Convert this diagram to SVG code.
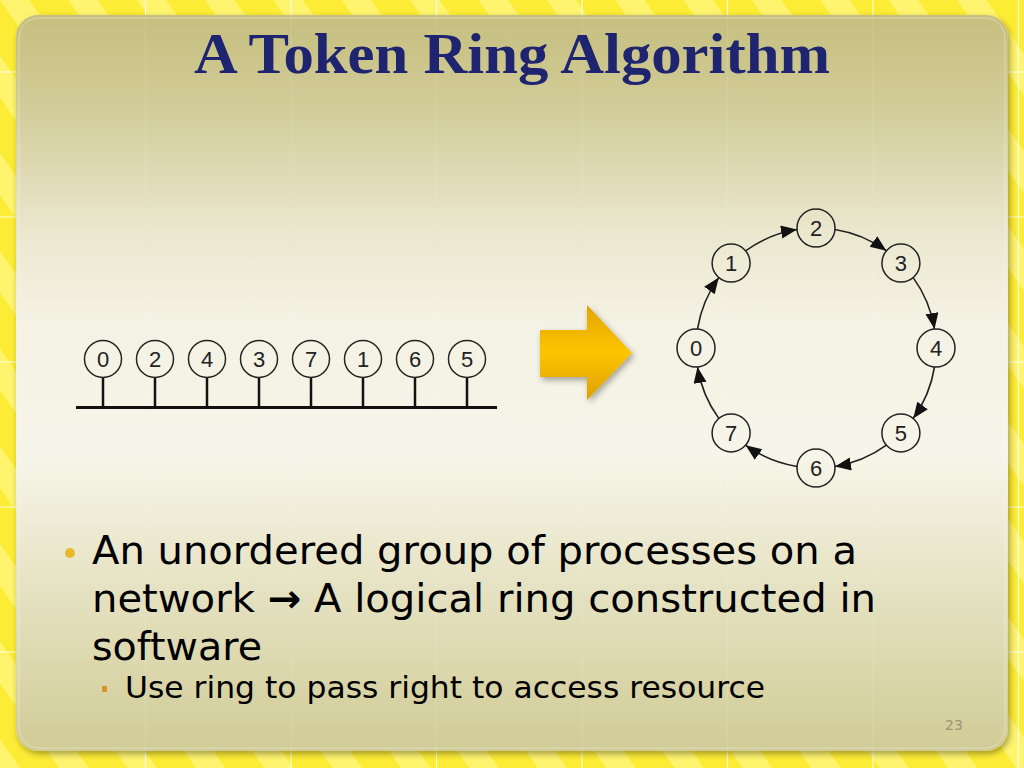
<svg xmlns="http://www.w3.org/2000/svg" width="1024" height="768" viewBox="0 0 1024 768">
<defs>
  <pattern id="stripes" patternUnits="userSpaceOnUse" width="56" height="56" patternTransform="rotate(-35)">
    <rect width="56" height="56" fill="#fdec35"/>
    <rect width="24" height="56" fill="#fff46e"/>
  </pattern>
  <linearGradient id="panelGrad" gradientUnits="userSpaceOnUse" x1="0" y1="15" x2="0" y2="751">
    <stop offset="0" stop-color="#c6bf7f"/>
    <stop offset="0.12" stop-color="#d1cb97"/>
    <stop offset="0.3" stop-color="#ebe8d0"/>
    <stop offset="0.42" stop-color="#f4f2e4"/>
    <stop offset="0.6" stop-color="#f6f5e9"/>
    <stop offset="0.72" stop-color="#ebe8cf"/>
    <stop offset="0.86" stop-color="#dedab2"/>
    <stop offset="1" stop-color="#d1cb96"/>
  </linearGradient>
  <linearGradient id="arrowGrad" x1="0" y1="0" x2="0" y2="1">
    <stop offset="0" stop-color="#e2a400"/>
    <stop offset="0.5" stop-color="#fdc500"/>
    <stop offset="1" stop-color="#dc9f00"/>
  </linearGradient>
  <filter id="shadow" x="-10%" y="-10%" width="130%" height="130%">
    <feGaussianBlur in="SourceAlpha" stdDeviation="3"/>
    <feOffset dx="2" dy="3" result="b"/>
    <feComponentTransfer><feFuncA type="linear" slope="0.35"/></feComponentTransfer>
    <feMerge><feMergeNode/><feMergeNode in="SourceGraphic"/></feMerge>
  </filter>
  <marker id="ah" markerUnits="userSpaceOnUse" markerWidth="18" markerHeight="14" refX="16" refY="6.5" orient="auto">
    <path d="M0,0 L16,6.5 L0,13 z" fill="#111"/>
  </marker>
  <style>
    .node circle { fill: none; stroke: #222; stroke-width: 1.5; }
    .node text { font-family: "Liberation Sans", Arial, sans-serif; font-size: 22px; fill: #222; text-anchor: middle; }
    .stem { stroke: #111; stroke-width: 2.5; }
    .arc { fill: none; stroke: #222; stroke-width: 1.6; marker-end: url(#ah); }
    .grid { stroke: #ffffff; stroke-width: 1.2; }
    .body { font-family: "DejaVu Sans", Verdana, sans-serif; fill: #000; }
  </style>
</defs>

<!-- background -->
<rect width="1024" height="768" fill="url(#stripes)"/>
<g class="grid" opacity="0.8">
  <line x1="145.5" y1="0" x2="145.5" y2="768"/>
  <line x1="291" y1="0" x2="291" y2="768"/>
  <line x1="436.5" y1="0" x2="436.5" y2="768"/>
  <line x1="582" y1="0" x2="582" y2="768"/>
  <line x1="727.5" y1="0" x2="727.5" y2="768"/>
  <line x1="873" y1="0" x2="873" y2="768"/>
  <line x1="1018.5" y1="0" x2="1018.5" y2="768"/>
  <line x1="0" y1="72" x2="1024" y2="72"/>
  <line x1="0" y1="217" x2="1024" y2="217"/>
  <line x1="0" y1="362" x2="1024" y2="362"/>
  <line x1="0" y1="507" x2="1024" y2="507"/>
  <line x1="0" y1="652" x2="1024" y2="652"/>
</g>
<rect x="16" y="15" width="992" height="736" rx="22" fill="url(#panelGrad)" filter="url(#shadow)"/>
<g class="grid" opacity="0.1">
  <line x1="145.5" y1="15" x2="145.5" y2="751"/>
  <line x1="291" y1="15" x2="291" y2="751"/>
  <line x1="436.5" y1="15" x2="436.5" y2="751"/>
  <line x1="582" y1="15" x2="582" y2="751"/>
  <line x1="727.5" y1="15" x2="727.5" y2="751"/>
  <line x1="873" y1="15" x2="873" y2="751"/>
</g>
<rect x="19" y="18" width="986" height="730" rx="20" fill="none" stroke="#ffffff" stroke-opacity="0.35" stroke-width="1"/>

<!-- title -->
<text x="512" y="73" text-anchor="middle" font-family="Liberation Serif, 'Times New Roman', serif" font-weight="bold" font-size="58" fill="#1f2470" textLength="636" lengthAdjust="spacingAndGlyphs">A Token Ring Algorithm</text>

<!-- bus network -->
<g id="bus">
  <line x1="76" y1="407.5" x2="497" y2="407.5" stroke="#111" stroke-width="3"/>
  <line class="stem" x1="103" y1="377" x2="103" y2="407"/>
  <line class="stem" x1="155" y1="377" x2="155" y2="407"/>
  <line class="stem" x1="207" y1="377" x2="207" y2="407"/>
  <line class="stem" x1="259" y1="377" x2="259" y2="407"/>
  <line class="stem" x1="311" y1="377" x2="311" y2="407"/>
  <line class="stem" x1="363" y1="377" x2="363" y2="407"/>
  <line class="stem" x1="415" y1="377" x2="415" y2="407"/>
  <line class="stem" x1="467" y1="377" x2="467" y2="407"/>
</g>
<g id="bus-node-0" class="node"><circle cx="103" cy="359" r="18.5"/><text x="103" y="367">0</text></g>
<g id="bus-node-2" class="node"><circle cx="155" cy="359" r="18.5"/><text x="155" y="367">2</text></g>
<g id="bus-node-4" class="node"><circle cx="207" cy="359" r="18.5"/><text x="207" y="367">4</text></g>
<g id="bus-node-3" class="node"><circle cx="259" cy="359" r="18.5"/><text x="259" y="367">3</text></g>
<g id="bus-node-7" class="node"><circle cx="311" cy="359" r="18.5"/><text x="311" y="367">7</text></g>
<g id="bus-node-1" class="node"><circle cx="363" cy="359" r="18.5"/><text x="363" y="367">1</text></g>
<g id="bus-node-6" class="node"><circle cx="415" cy="359" r="18.5"/><text x="415" y="367">6</text></g>
<g id="bus-node-5" class="node"><circle cx="467" cy="359" r="18.5"/><text x="467" y="367">5</text></g>

<!-- big arrow -->
<g id="big-arrow">
  <path d="M540,330 L587,330 L587,305 L632,353 L587,400 L587,377 L540,377 z" fill="url(#arrowGrad)" filter="url(#shadow)"/>
</g>

<!-- ring connectors -->
<g id="ring-connectors">
  <path class="arc" d="M697.5,329 A120,120 0 0 1 718.8,277.6"/>
  <path class="arc" d="M745.6,250.8 A120,120 0 0 1 797,229.5"/>
  <path class="arc" d="M835,229.5 A120,120 0 0 1 886.4,250.8"/>
  <path class="arc" d="M913.2,277.6 A120,120 0 0 1 934.5,329"/>
  <path class="arc" d="M934.5,367 A120,120 0 0 1 913.2,418.4"/>
  <path class="arc" d="M886.4,445.2 A120,120 0 0 1 835,466.5"/>
  <path class="arc" d="M797,466.5 A120,120 0 0 1 745.6,445.2"/>
  <path class="arc" d="M718.8,418.4 A120,120 0 0 1 697.5,367"/>
</g>
<g id="ring-node-0" class="node"><circle cx="696" cy="348" r="19"/><text x="696" y="356">0</text></g>
<g id="ring-node-1" class="node"><circle cx="731.1" cy="263.1" r="19"/><text x="731.1" y="271.1">1</text></g>
<g id="ring-node-2" class="node"><circle cx="816" cy="228" r="19"/><text x="816" y="236">2</text></g>
<g id="ring-node-3" class="node"><circle cx="900.9" cy="263.1" r="19"/><text x="900.9" y="271.1">3</text></g>
<g id="ring-node-4" class="node"><circle cx="936" cy="348" r="19"/><text x="936" y="356">4</text></g>
<g id="ring-node-5" class="node"><circle cx="900.9" cy="432.9" r="19"/><text x="900.9" y="440.9">5</text></g>
<g id="ring-node-6" class="node"><circle cx="816" cy="468" r="19"/><text x="816" y="476">6</text></g>
<g id="ring-node-7" class="node"><circle cx="731.1" cy="432.9" r="19"/><text x="731.1" y="440.9">7</text></g>

<!-- bullets -->
<circle cx="70" cy="553" r="5" fill="#e7b92c"/>
<text class="body" font-size="39" x="92" y="564" textLength="765" lengthAdjust="spacingAndGlyphs">An unordered group of processes on a</text>
<text class="body" font-size="39" x="92" y="612" textLength="784" lengthAdjust="spacingAndGlyphs">network <tspan font-weight="bold">→</tspan> A logical ring constructed in</text>
<text class="body" font-size="39" x="92" y="660" textLength="170" lengthAdjust="spacingAndGlyphs">software</text>
<rect x="102" y="686" width="5" height="6" fill="#d8962a"/>
<text class="body" font-size="31" x="125" y="698" textLength="640" lengthAdjust="spacingAndGlyphs">Use ring to pass right to access resource</text>

<text x="945" y="730" font-family="DejaVu Sans, Verdana, sans-serif" font-size="14" fill="#9a9674">23</text>
</svg>
